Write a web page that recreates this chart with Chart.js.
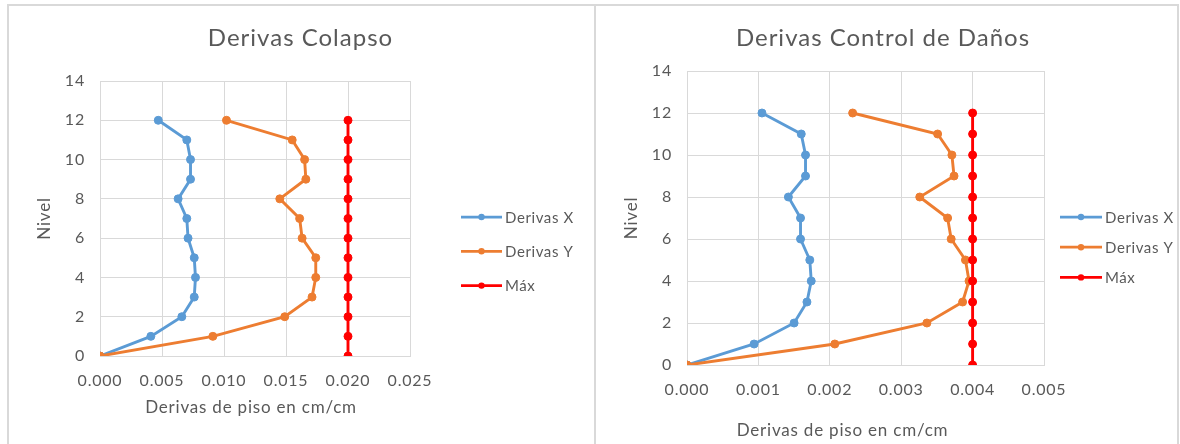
<!DOCTYPE html>
<html>
<head>
<meta charset="utf-8">
<script src="https://cdn.jsdelivr.net/npm/chart.js@4"></script>
<style>
  html, body { margin: 0; padding: 0; background: #ffffff; }
  body { width: 1180px; height: 444px; position: relative; overflow: hidden; }
  .panel { position: absolute; box-sizing: border-box; border: 2px solid #d9d9d9; border-bottom: none; }
  #wrapA { position: absolute; left: 0; top: 0; width: 595px; height: 444px; }
  #wrapB { position: absolute; left: 595px; top: 0; width: 585px; height: 444px; }
</style>
</head>
<body>
<div class="panel" style="left:7px; top:4px; width:589px; height:460px;"></div>
<div class="panel" style="left:594px; top:4px; width:585px; height:460px;"></div>
<div id="wrapA"><canvas id="chartA"></canvas></div>
<div id="wrapB"><canvas id="chartB"></canvas></div>
<script>
// Story levels (Nivel)
const niveles = [0, 1, 2, 3, 4, 5, 6, 7, 8, 9, 10, 11, 12];

// Collapse limit state drifts (cm/cm)
const colapsoX   = [0, 0.0041, 0.0066, 0.0076, 0.0077, 0.0076, 0.0071, 0.0070, 0.0063, 0.0073, 0.0073, 0.0070, 0.0047];
const colapsoY   = [0, 0.0091, 0.0149, 0.0171, 0.0174, 0.0174, 0.0163, 0.0161, 0.0145, 0.0166, 0.0165, 0.0155, 0.0102];
const colapsoMax = [0.020, 0.020, 0.020, 0.020, 0.020, 0.020, 0.020, 0.020, 0.020, 0.020, 0.020, 0.020, 0.020];

// Damage control limit state drifts (cm/cm)
const danosX   = [0, 0.00094, 0.00150, 0.00168, 0.00174, 0.00172, 0.00159, 0.00159, 0.00142, 0.00166, 0.00166, 0.00160, 0.00105];
const danosY   = [0, 0.00207, 0.00336, 0.00386, 0.00395, 0.00390, 0.00370, 0.00365, 0.00326, 0.00374, 0.00371, 0.00351, 0.00232];
const danosMax = [0.004, 0.004, 0.004, 0.004, 0.004, 0.004, 0.004, 0.004, 0.004, 0.004, 0.004, 0.004, 0.004];

const seriesNames = ['Derivas X', 'Derivas Y', 'Máx'];
const seriesColors = ['#5B9BD5', '#ED7D31', '#FF0000'];

const FONT = 'Lato, "Liberation Sans", sans-serif';
const TEXT = '#595959';
const GRID = '#d9d9d9';
const SPACING = '0.8px';

function pts(xs) { return xs.map((x, i) => ({ x: x, y: niveles[i] })); }

// Slightly open letter spacing for all chart text
const openText = {
  id: 'openText',
  beforeDraw(chart) { chart.ctx.letterSpacing = SPACING; }
};

// Chart heading, centred on the whole panel
const heading = {
  id: 'heading',
  afterDraw(chart, args, opts) {
    const ctx = chart.ctx;
    ctx.save();
    ctx.letterSpacing = opts.spacing;
    ctx.font = opts.fontSize + 'px ' + FONT;
    ctx.fillStyle = TEXT;
    ctx.textAlign = 'center';
    ctx.textBaseline = 'middle';
    ctx.fillText(opts.text, chart.width / 2 + opts.dx, opts.y);
    ctx.restore();
  }
};

// Legend drawn beside the plot: line with a dot, like a spreadsheet legend
const sideLegend = {
  id: 'sideLegend',
  afterDraw(chart, args, opts) {
    const ctx = chart.ctx;
    const a = chart.chartArea;
    ctx.save();
    ctx.letterSpacing = opts.spacingText;
    ctx.font = opts.fontSize + 'px ' + FONT;
    ctx.textBaseline = 'middle';
    ctx.textAlign = 'left';
    chart.data.datasets.forEach((ds, i) => {
      const y = opts.top + i * opts.spacing;
      const x0 = a.right + opts.offset;
      ctx.strokeStyle = ds.borderColor;
      ctx.lineWidth = 2.75;
      ctx.beginPath();
      ctx.moveTo(x0, y);
      ctx.lineTo(x0 + opts.lineLen, y);
      ctx.stroke();
      ctx.fillStyle = ds.borderColor;
      ctx.beginPath();
      ctx.arc(x0 + opts.lineLen / 2, y, 3.2, 0, Math.PI * 2);
      ctx.fill();
      ctx.fillStyle = TEXT;
      ctx.fillText(ds.label, x0 + opts.lineLen + 3, y + 1);
    });
    ctx.restore();
  }
};

// X axis caption under the tick labels
const xCaption = {
  id: 'xCaption',
  afterDraw(chart, args, opts) {
    const ctx = chart.ctx;
    const a = chart.chartArea;
    ctx.save();
    ctx.letterSpacing = SPACING;
    ctx.font = opts.fontSize + 'px ' + FONT;
    ctx.fillStyle = TEXT;
    ctx.textAlign = 'center';
    ctx.textBaseline = 'middle';
    ctx.fillText(opts.text, (a.left + a.right) / 2 + opts.dx, opts.y);
    ctx.restore();
  }
};

function makeChart(id, title, xs, ys, maxs, cfg) {
  const datasets = [xs, ys, maxs].map((vals, i) => ({
    label: seriesNames[i],
    data: pts(vals),
    borderColor: seriesColors[i],
    backgroundColor: seriesColors[i],
    borderWidth: 2.9,
    pointRadius: 4,
    pointBorderWidth: 1,
    pointHoverRadius: 4,
    showLine: true,
    tension: 0,
    order: 3 - i
  }));
  return new Chart(document.getElementById(id), {
    type: 'scatter',
    data: { datasets },
    plugins: [openText, heading, sideLegend, xCaption],
    options: {
      responsive: true,
      maintainAspectRatio: false,
      animation: false,
      layout: { padding: { left: 0, right: cfg.padRight, top: cfg.padTop, bottom: 0 } },
      plugins: {
        legend: { display: false },
        tooltip: { enabled: false },
        title: { display: false },
        heading: { text: title, fontSize: 24, spacing: '1px', y: 38, dx: cfg.titleDx },
        sideLegend: cfg.legend,
        xCaption: { text: 'Derivas de piso en cm/cm', fontSize: 17, y: cfg.captionY, dx: cfg.captionDx }
      },
      scales: {
        x: {
          type: 'linear',
          min: 0,
          max: cfg.xMax,
          afterFit(s) { s.height = cfg.xHeight; },
          ticks: {
            stepSize: cfg.xStep,
            color: TEXT,
            padding: 15,
            maxRotation: 0,
            font: { family: FONT, size: 16 },
            callback: v => v.toFixed(3)
          },
          grid: { color: GRID, lineWidth: 1, drawTicks: false },
          border: { color: GRID, width: 1 }
        },
        y: {
          type: 'linear',
          min: 0,
          max: 14,
          afterFit(s) { s.width = cfg.yWidth; },
          ticks: {
            stepSize: 2,
            color: TEXT,
            padding: 15,
            font: { family: FONT, size: 16 }
          },
          grid: { color: GRID, lineWidth: 1, drawTicks: false },
          border: { color: GRID, width: 1 },
          title: {
            display: true,
            text: 'Nivel',
            color: TEXT,
            font: { family: FONT, size: 17 },
            padding: { top: cfg.yTitlePad, bottom: 0 }
          }
        }
      }
    }
  });
}

makeChart('chartA', 'Derivas Colapso', colapsoX, colapsoY, colapsoMax, {
  xMax: 0.025, xStep: 0.005,
  padRight: 185, padTop: 81, yWidth: 100, xHeight: 88, titleDx: 3,
  yTitlePad: 34.5, captionY: 408, captionDx: -4,
  legend: { offset: 51, lineLen: 41, top: 217, spacing: 34.3, fontSize: 15, spacingText: '0.6px' }
});

makeChart('chartB', 'Derivas Control de Daños', danosX, danosY, danosMax, {
  xMax: 0.005, xStep: 0.001,
  padRight: 136, padTop: 71, yWidth: 92, xHeight: 79, titleDx: -4.5,
  yTitlePad: 26.5, captionY: 431, captionDx: -23,
  legend: { offset: 16, lineLen: 42, top: 217, spacing: 30.2, fontSize: 15, spacingText: '0.6px' }
});
</script>
</body>
</html>
